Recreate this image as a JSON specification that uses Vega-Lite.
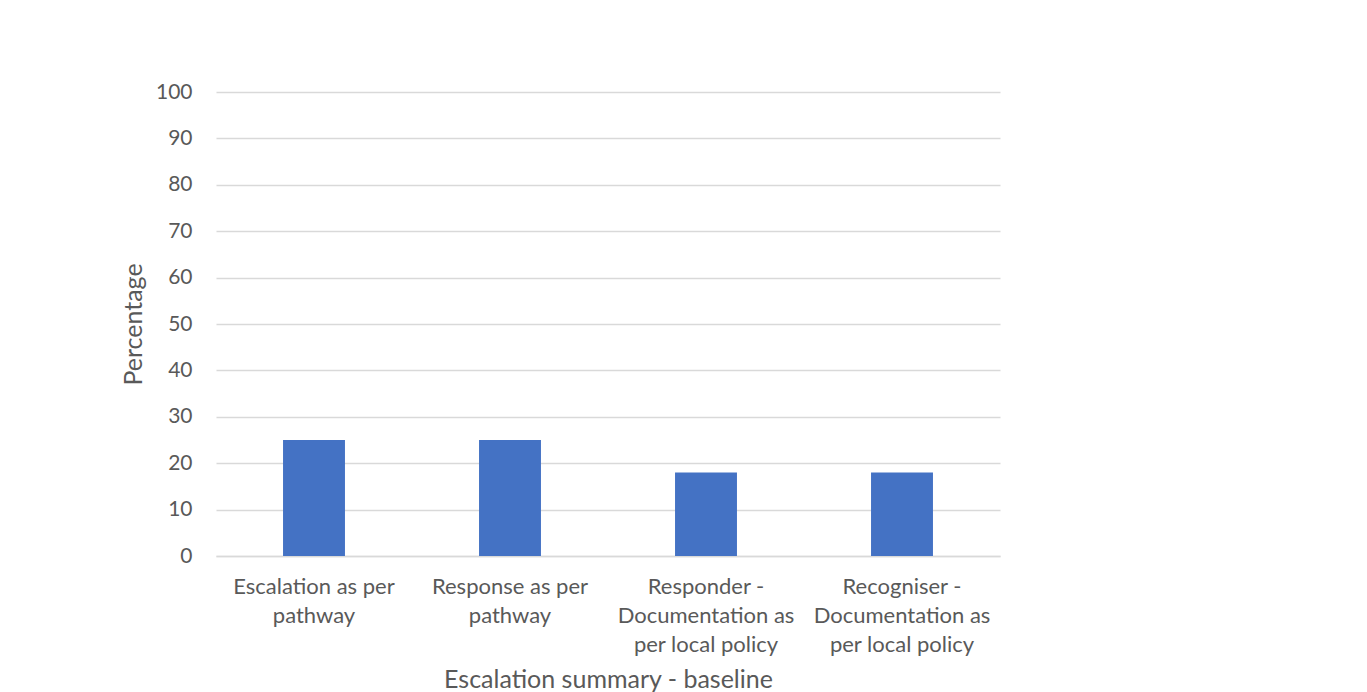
{
  "$schema": "https://vega.github.io/schema/vega-lite/v6.json",
  "width": 784,
  "height": 464,
  "autosize": {"type": "none"},
  "padding": {"left": 216, "top": 92, "right": 367, "bottom": 136},
  "background": "white",
  "data": {
    "values": [
      {"category": "Escalation as per\npathway", "percentage": 25},
      {"category": "Response as per\npathway", "percentage": 25},
      {"category": "Responder -\nDocumentation as\nper local policy", "percentage": 18},
      {"category": "Recogniser -\nDocumentation as\nper local policy", "percentage": 18}
    ]
  },
  "mark": {"type": "bar", "color": "#4472C4"},
  "encoding": {
    "x": {
      "field": "category",
      "type": "nominal",
      "sort": null,
      "scale": {"paddingInner": 0.684, "paddingOuter": 0.342},
      "axis": {
        "title": "Escalation summary - baseline",
        "labelAngle": 0,
        "labelExpr": "split(datum.label, '\\n')",
        "labelLineHeight": 29,
        "labelFontSize": 22,
        "labelPadding": 20,
        "ticks": false,
        "domain": true,
        "domainColor": "#d9d9d9",
        "domainWidth": 1.5,
        "titlePadding": 12
      }
    },
    "y": {
      "field": "percentage",
      "type": "quantitative",
      "scale": {"domain": [0, 100]},
      "axis": {
        "title": "Percentage",
        "values": [0, 10, 20, 30, 40, 50, 60, 70, 80, 90, 100],
        "ticks": false,
        "domain": false,
        "labelFontSize": 21,
        "labelPadding": 24,
        "titlePadding": 9,
        "grid": true,
        "gridColor": "#d9d9d9",
        "gridWidth": 1.5
      }
    }
  },
  "config": {
    "font": "Lato",
    "view": {"stroke": null},
    "axis": {
      "labelFont": "Lato",
      "labelColor": "#595959",
      "titleFont": "Lato",
      "titleFontSize": 25,
      "titleFontWeight": "normal",
      "titleColor": "#595959"
    }
  }
}
